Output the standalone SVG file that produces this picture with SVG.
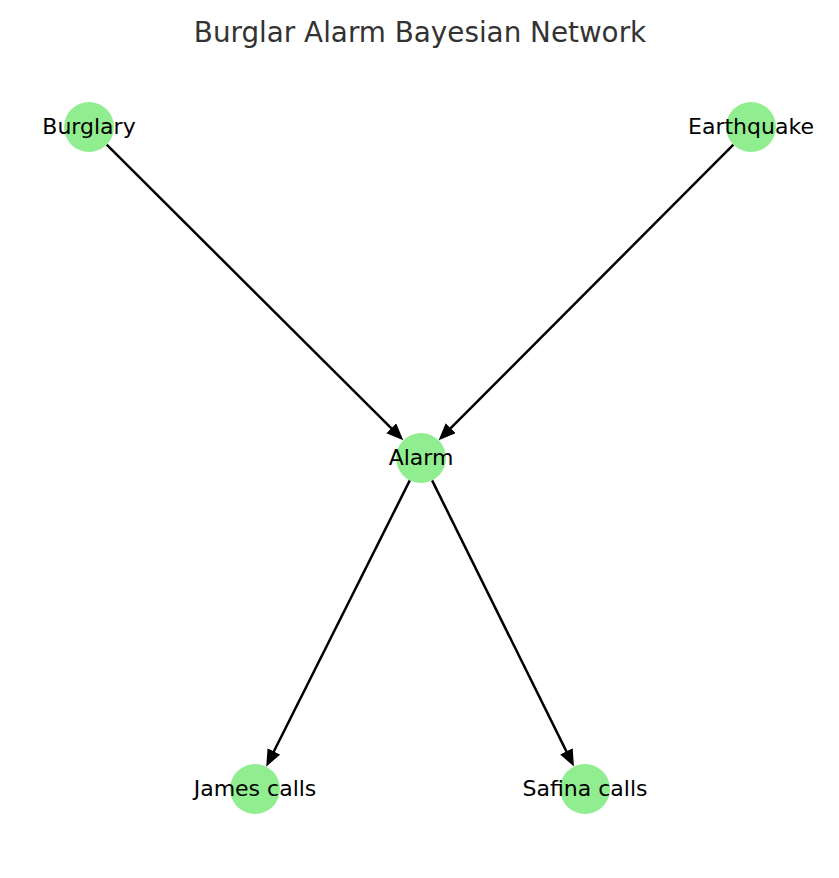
<svg xmlns="http://www.w3.org/2000/svg" width="839" height="878" viewBox="0 0 839 878">
<defs>
<style>
.node{fill:#90EE90}
.lbl{font-family:"DejaVu Sans",sans-serif;font-size:22px;fill:#000;text-anchor:middle;dominant-baseline:central}
.edge{stroke:#000;stroke-width:2.5;fill:none}
.title{font-family:"DejaVu Sans",sans-serif;font-size:27.8px;fill:#333;text-anchor:middle}
</style>
<marker id="arr" markerUnits="userSpaceOnUse" markerWidth="20" markerHeight="16" refX="7" refY="7" orient="auto">
<path d="M0,0 L17,7 L0,14 z" fill="#000"/>
</marker>
</defs>
<rect width="839" height="878" fill="#fff"/>
<text class="title" x="420" y="42">Burglar Alarm Bayesian Network</text>
<g id="edges">
<line class="edge" x1="106.7" y1="144.7" x2="396.2" y2="433.2" marker-end="url(#arr)"/>
<line class="edge" x1="733.4" y1="144.7" x2="445.7" y2="433.2" marker-end="url(#arr)"/>
<line class="edge" x1="409.8" y1="480.4" x2="270.7" y2="757.7" marker-end="url(#arr)"/>
<line class="edge" x1="432.1" y1="480.4" x2="569.5" y2="757.6" marker-end="url(#arr)"/>
</g>
<g id="burglary"><circle class="node" cx="89" cy="127" r="25"/><text class="lbl" x="89" y="126.5">Burglary</text></g>
<g id="earthquake"><circle class="node" cx="751" cy="127" r="25"/><text class="lbl" x="751" y="126.5">Earthquake</text></g>
<g id="alarm"><circle class="node" cx="421" cy="458" r="25"/><text class="lbl" x="421" y="457.5">Alarm</text></g>
<g id="james"><circle class="node" cx="255" cy="789" r="25"/><text class="lbl" x="255" y="788.5">James calls</text></g>
<g id="safina"><circle class="node" cx="585" cy="789" r="25"/><text class="lbl" x="585" y="788.5">Safina calls</text></g>
</svg>
